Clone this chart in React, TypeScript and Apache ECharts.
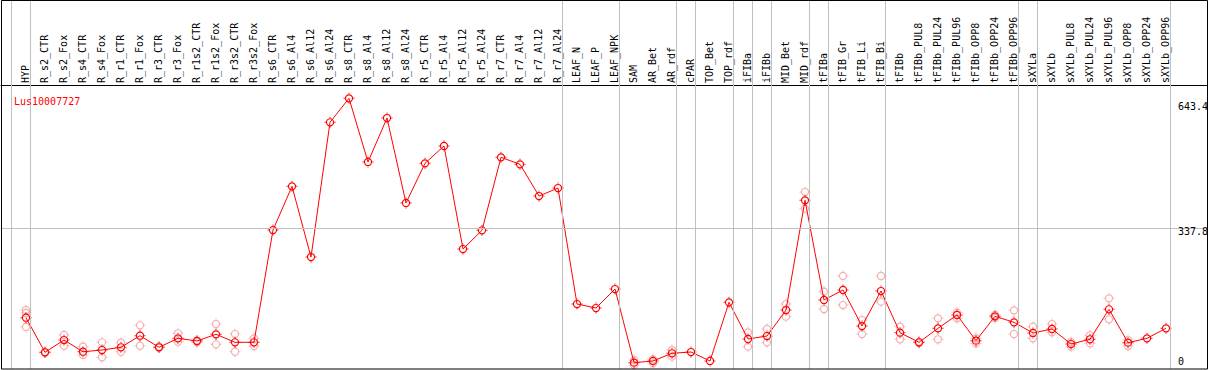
import React, { useEffect, useRef } from "react";
import * as echarts from "echarts";

const title = "Lus10007727";

const categories = [
  "HYP", "R_s2_CTR", "R_s2_Fox", "R_s4_CTR", "R_s4_Fox", "R_r1_CTR", "R_r1_Fox", "R_r3_CTR", "R_r3_Fox",
  "R_r1s2_CTR", "R_r1s2_Fox", "R_r3s2_CTR", "R_r3s2_Fox",
  "R_s6_CTR", "R_s6_Al4", "R_s6_Al12", "R_s6_Al24",
  "R_s8_CTR", "R_s8_Al4", "R_s8_Al12", "R_s8_Al24",
  "R_r5_CTR", "R_r5_Al4", "R_r5_Al12", "R_r5_Al24",
  "R_r7_CTR", "R_r7_Al4", "R_r7_Al12", "R_r7_Al24",
  "LEAF_N", "LEAF_P", "LEAF_NPK", "SAM", "AR_Bet", "AR_rdf", "cPAR", "TOP_Bet", "TOP_rdf",
  "iFIBa", "iFIBb", "MID_Bet", "MID_rdf", "tFIBa", "tFIB_Gr", "tFIB_Li", "tFIB_Bi",
  "tFIBb", "tFIBb_PUL8", "tFIBb_PUL24", "tFIBb_PUL96", "tFIBb_OPP8", "tFIBb_OPP24", "tFIBb_OPP96",
  "sXYLa", "sXYLb", "sXYLb_PUL8", "sXYLb_PUL24", "sXYLb_PUL96", "sXYLb_OPP8", "sXYLb_OPP24", "sXYLb_OPP96",
];

// mean expression
const meanValues = [
  127.6, 46.3, 75.2, 47.7, 51.7, 58.1, 85.3, 58.1, 79.2,
  72.9, 88.6, 69.8, 69.8,
  333.8, 436.5, 270.3, 587.0,
  643.4, 493.7, 597.1, 397.3,
  490.6, 531.3, 289.1, 333.1,
  504.7, 488.2, 413.7, 432.5,
  159.8, 150.4, 195.1, 21.9, 25.9, 44.0, 47.0, 25.9, 163.8,
  77.6, 84.6, 145.7, 403.6, 169.3, 192.8, 108.1, 190.4,
  92.4, 69.8, 102.7, 134.0, 73.6, 130.9, 116.8,
  91.7, 101.1, 65.8, 76.9, 147.4, 68.9, 79.2, 102.7,
];

// replicate measurements
const rep1 = [
  145.7, 47, 87, 59.5, 69.8, 68.9, 109.8, 60, 91,
  74, 112.8, 89.3, 79.2,
  null, null, null, null,
  null, null, null, null,
  null, null, null, null,
  null, null, null, null,
  null, null, null, 28, 29.9, 51.7, null, null, null,
  93.3, 101.1, 159.8, 423.1, 188.8, 225.7, 122.2, 225.7,
  106.5, 71, 126.2, 139.4, 79.2, 134, 145,
  106.5, 112.8, 70.5, 86.3, 173.2, 75.2, null, null,
];
const rep2 = [
  105.8, 45, 61.8, 40, 34.6, 47.7, 61.8, 57, 71.2,
  70, 65.1, 47.7, 61.1,
  null, null, null, null,
  null, null, null, null,
  null, null, null, null,
  null, null, null, null,
  null, null, null, 16.5, 20.5, 36, null, null, null,
  59.5, 69.8, 130, 383.9, 148.1, 157.5, 89.3, 165.3,
  76.9, 68, 76.9, 126.2, 67.5, 127, 89.3,
  79.2, 93.3, 59.5, 67.5, 123.9, 61.1, null, null,
];
const rep3 = [138.7];

const separatorsAfter = [-1, 0, 28, 31, 34, 35, 37, 38, 39, 41, 42, 45, 52, 53, 60];
const yRefLine = 337.8;
const yTickLabels = ["643.4", "337.8", "0"];

const FONT = "DejaVu Sans Mono";
const GRAY = "#c0c0c0";
const RED = "#ff0000";
const PINK = "#f09a9a";

const markerPath =
  "path://M1.5,6 A4.5,4.5 0 1,1 10.5,6 A4.5,4.5 0 1,1 1.5,6 Z M2.8,6 A3.2,3.2 0 1,0 9.2,6 A3.2,3.2 0 1,0 2.8,6 Z M5.5,0 H6.5 V1.4 H5.5 Z M5.5,10.6 H6.5 V12 H5.5 Z M0,5.5 H1.4 V6.5 H0 Z M10.6,5.5 H12 V6.5 H10.6 Z";

export default function App() {
  const ref = useRef<HTMLDivElement>(null);
  useEffect(() => {
    document.body.style.margin = "0";
    if (!ref.current) return;
    const chart = echarts.init(ref.current, null, { renderer: "svg" });
    const xMin = -1.3158;
    const xMax = 62.184;
    const repPoints: number[][] = [];
    [rep1, rep2, rep3].forEach((arr) =>
      arr.forEach((v, i) => {
        if (v !== null && v !== undefined) repPoints.push([i, v as number]);
      })
    );
    const sepLines = separatorsAfter.map((s) => ({ xAxis: s + 0.24 }));
    const tickY = [107, 232.5, 362];
    chart.setOption({
      animation: false,
      backgroundColor: "#ffffff",
      color: [RED],
      title: {
        text: title,
        left: 9,
        top: 91,
        textStyle: { color: RED, fontFamily: FONT, fontSize: 10, fontWeight: "normal" },
      },
      grid: [
        { left: 1, right: 1.5, top: 85, bottom: 1 },
        { left: 1, right: 1.5, top: 0, height: 85 },
      ],
      xAxis: [
        {
          type: "value",
          gridIndex: 0,
          position: "top",
          min: xMin,
          max: xMax,
          axisLine: { show: true, lineStyle: { color: "#000", width: 1 } },
          axisTick: { show: false },
          splitLine: { show: false },
          axisLabel: { show: false },
        },
        {
          type: "value",
          gridIndex: 1,
          min: xMin,
          max: xMax,
          show: false,
        },
      ],
      yAxis: [
        { type: "value", gridIndex: 0, min: 7.05, max: 674.7, show: false },
        { type: "value", gridIndex: 1, min: 0, max: 1, show: false },
      ],
      series: [
        {
          type: "line",
          xAxisIndex: 1,
          yAxisIndex: 1,
          data: [],
          silent: true,
          markLine: {
            silent: true,
            symbol: "none",
            label: { show: false },
            lineStyle: { color: GRAY, type: "solid", width: 1 },
            data: sepLines,
          },
        },
        {
          type: "line",
          xAxisIndex: 0,
          yAxisIndex: 0,
          data: [],
          silent: true,
          markLine: {
            silent: true,
            symbol: "none",
            label: { show: false },
            lineStyle: { color: GRAY, type: "solid", width: 1 },
            data: [...sepLines, { yAxis: yRefLine }],
          },
        },
        {
          type: "scatter",
          xAxisIndex: 0,
          yAxisIndex: 0,
          data: repPoints,
          symbol: markerPath,
          symbolSize: 11,
          itemStyle: { color: PINK },
          z: 3,
        },
        {
          type: "line",
          xAxisIndex: 0,
          yAxisIndex: 0,
          data: meanValues.map((v, i) => [i, v]),
          symbol: markerPath,
          symbolSize: 11,
          showAllSymbol: true,
          lineStyle: { color: RED, width: 1 },
          itemStyle: { color: RED },
          z: 4,
        },
      ],
    });

    const labelEls = categories.map((name, i) => {
      const px = chart.convertToPixel({ xAxisIndex: 0 }, i) as number;
      return {
        type: "text",
        x: px - 0.5,
        y: 83,
        rotation: Math.PI / 2,
        silent: true,
        style: {
          text: name,
          fill: "#000",
          font: `10px "${FONT}"`,
          align: "left",
          verticalAlign: "middle",
        },
        z: 50,
      };
    });
    chart.setOption({
      graphic: {
        elements: [
          {
            type: "rect",
            shape: { x: 1.5, y: 0.5, width: 1206, height: 368.5 },
            style: { fill: "none", stroke: "#000", lineWidth: 1 },
            z: 100,
            silent: true,
          },
          ...yTickLabels.map((t, k) => ({
            type: "text",
            left: 1178,
            top: tickY[k] - 6,
            silent: true,
            style: { text: t, fill: "#000", font: `10px "${FONT}"` },
            z: 100,
          })),
          ...labelEls,
        ],
      },
    });
    return () => chart.dispose();
  }, []);
  return <div ref={ref} style={{ width: 1209, height: 370 }} />;
}
